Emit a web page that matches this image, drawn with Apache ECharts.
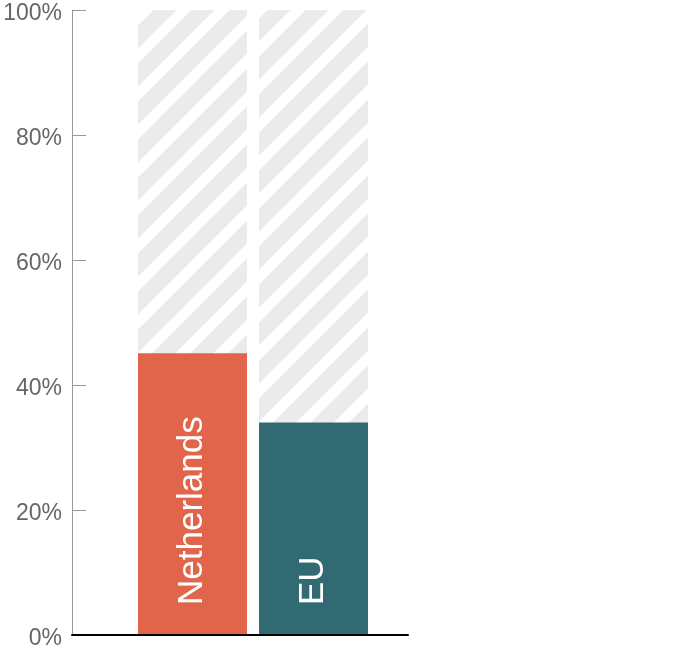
<!DOCTYPE html>
<html>
<head>
<meta charset="utf-8">
<script src="https://cdn.jsdelivr.net/npm/echarts@6/dist/echarts.min.js"></script>
<style>html,body{margin:0;padding:0;background:#fff}#c{width:676px;height:654px}</style>
</head>
<body>
<div id="c"></div>
<script>
const categories = ['Netherlands', 'EU'];
const shareValues = [45.1, 34.0];
const totalValues = [100, 100];
const barColors = ['#e0654a', '#316a72'];
const yTicks = [0, 20, 40, 60, 80, 100];

function makeHatch() {
  const s = 38, off = 4;
  const c = document.createElement('canvas');
  c.width = s; c.height = s;
  const g = c.getContext('2d');
  g.fillStyle = '#ebebeb';
  g.fillRect(0, 0, s, s);
  g.strokeStyle = '#ffffff';
  g.lineWidth = 10.5;
  // lines x + y = off + k*s
  [-1, 0, 1, 2].forEach(function (k) {
    const t = off + k * s;
    g.beginPath();
    g.moveTo(t + 20, -20);
    g.lineTo(-20, t + 20);
    g.stroke();
  });
  return c;
}

const chart = echarts.init(document.getElementById('c'), null, {renderer: 'canvas'});
const pattern = {image: makeHatch(), repeat: 'repeat'};
const font = 'Liberation Sans, Arial, Helvetica, sans-serif';

chart.setOption({
  animation: false,
  grid: [
    {left: 72, right: 268, top: 10, bottom: 19, outerBoundsMode: 'none', containLabel: false},
    {left: 132, right: 302, top: 10, bottom: 19, outerBoundsMode: 'none', containLabel: false}
  ],
  xAxis: [
    {gridIndex: 0, type: 'category', data: [''], z: 5,
     axisLine: {show: true, lineStyle: {color: '#000', width: 2}},
     axisTick: {show: false}, axisLabel: {show: false}},
    {gridIndex: 1, type: 'category', data: categories, show: false}
  ],
  yAxis: [
    {gridIndex: 0, type: 'value', min: 0, max: 100, interval: 20, z: 1,
     axisLine: {show: true, lineStyle: {color: '#999', width: 1}},
     axisTick: {show: true, inside: true, length: 14, lineStyle: {color: '#999'}},
     splitLine: {show: false},
     axisLabel: {margin: 10,
       formatter: function (v) { return yTicks.indexOf(v) >= 0 ? '{t|' + v + '%}' : ''; },
       rich: {t: {color: '#666', fontSize: 23, fontFamily: font, padding: [7, 0, 0, 0]}}}},
    {gridIndex: 1, type: 'value', min: 0, max: 100, show: false}
  ],
  series: [
    {type: 'bar', xAxisIndex: 1, yAxisIndex: 1, barWidth: 109, barGap: '-100%',
     data: totalValues, itemStyle: {color: pattern}, z: 1, silent: true},
    {type: 'bar', xAxisIndex: 1, yAxisIndex: 1, barWidth: 109, barGap: '-100%',
     data: shareValues.map(function (v, i) { return {value: v, itemStyle: {color: barColors[i]}}; }),
     z: 2,
     label: {show: true, position: 'insideBottom', rotate: 90, align: 'left', verticalAlign: 'middle',
       distance: 30, color: '#fff', fontSize: 35, fontFamily: font,
       formatter: function (p) { return p.name; }}}
  ]
});
</script>
</body>
</html>
